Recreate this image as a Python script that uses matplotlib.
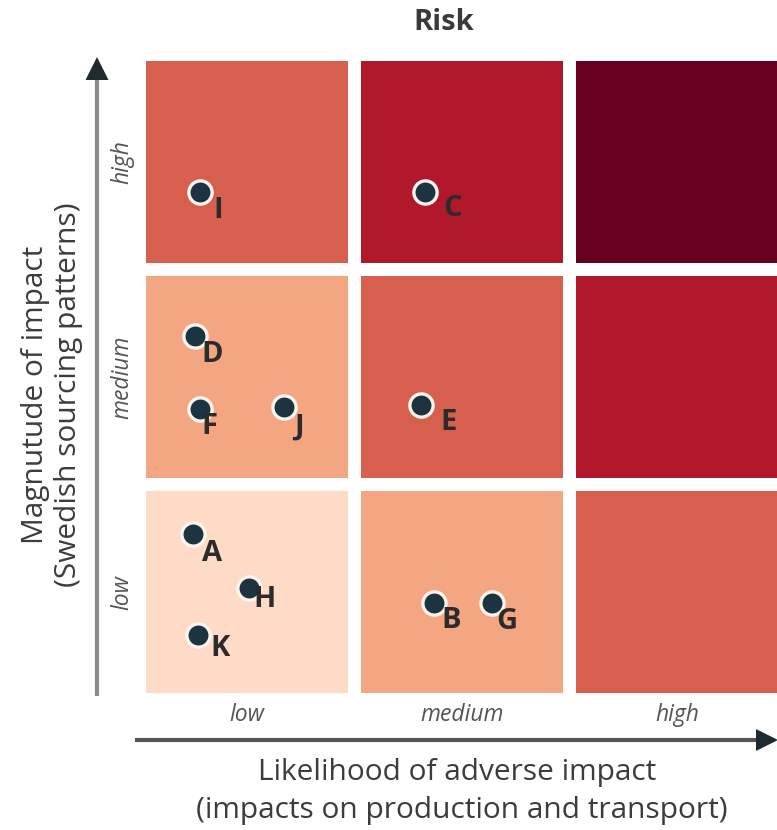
import matplotlib
matplotlib.use("Agg")
import matplotlib.pyplot as plt
from matplotlib.patches import Rectangle, Polygon

plt.rcParams["font.family"] = ["Open Sans", "DejaVu Sans"]

# ------------------ DATA ------------------

levels = ["low", "medium", "high"]

# risk level of each cell = likelihood index + magnitude index (0..4)
risk_colors = ["#fddbc7", "#f4a582", "#d6604d", "#b2182b", "#67001f"]

names = ["I", "C", "D", "F", "J", "E", "A", "H", "K", "B", "G"]
likelihood = [0.28, 1.33, 0.26, 0.28, 0.67, 1.31, 0.25, 0.51, 0.27, 1.37, 1.64]
magnitude = [2.36, 2.36, 1.69, 1.35, 1.36, 1.37, 0.77, 0.52, 0.30, 0.45, 0.45]

# label offsets in pixels (dx right, dy down)
label_dx = [18, 27, 17, 10, 15, 27, 19, 15, 23, 17, 15]
label_dy = [18, 16, 18, 17, 20, 18, 20, 12, 13, 18, 19]

# ------------------ LAYOUT ------------------

W, H = 777, 830
PITCH = 215.0          # pixels per grid unit
X0, Y0 = 139.5, 699.5  # pixel position of grid origin
GAP = 0.03


def gx(px):
    return (px - X0) / PITCH


def gy(py):
    return (Y0 - py) / PITCH


fig = plt.figure(figsize=(W / 100, H / 100), dpi=100)
ax = fig.add_axes([0, 0, 1, 1])
ax.set_xlim(gx(0), gx(W))
ax.set_ylim(gy(H), gy(0))
ax.axis("off")

# ------------------ RISK GRID ------------------

for i in range(3):
    for j in range(3):
        ax.add_patch(Rectangle((i + GAP, j + GAP), 1 - 2 * GAP, 1 - 2 * GAP,
                               facecolor=risk_colors[i + j], edgecolor="none",
                               zorder=1))

# ------------------ POINTS ------------------

ax.scatter(likelihood, magnitude, s=280, color="#1c3440",
           edgecolor="#fdf3ee", linewidth=2.4, zorder=3)

for n, x, y, dx, dy in zip(names, likelihood, magnitude, label_dx, label_dy):
    ax.annotate(n, (x, y), xytext=(dx * 0.72, -dy * 0.72),
                textcoords="offset points", ha="center", va="center",
                fontsize=21, fontweight="bold", color="#2b2b2b", zorder=4)

# ------------------ AXES ARROWS ------------------

line_col = "#8a8a8a"
head_col = "#1f2a30"

# vertical (magnitude)
ax.plot([gx(97), gx(97)], [gy(696), gy(78)], color=line_col, lw=3,
        solid_capstyle="butt", zorder=2)
ax.add_patch(Polygon([(gx(85.5), gy(80)), (gx(108.5), gy(80)), (gx(97), gy(57))],
                     closed=True, facecolor=head_col, edgecolor="none", zorder=2))

# horizontal (likelihood)
ax.plot([gx(135), gx(758)], [gy(740), gy(740)], color="#555555", lw=3,
        solid_capstyle="butt", zorder=2)
ax.add_patch(Polygon([(gx(756), gy(729)), (gx(756), gy(751)), (gx(778), gy(740))],
                     closed=True, facecolor=head_col, edgecolor="none", zorder=2))

# ------------------ LABELS ------------------

for k, lab in enumerate(levels):
    ax.text(k + 0.5, gy(715), lab, ha="center", va="center", fontsize=16.5,
            style="italic", color="#555555")
    ax.text(gx(122), k + 0.5, lab, ha="center", va="center", fontsize=16.5,
            style="italic", color="#555555", rotation=90)

ax.text(gx(444), gy(22), "Risk", ha="center", va="center", fontsize=21,
        fontweight="bold", color="#3a3a3a")

ax.text(gx(52), gy(395), "Magnutude of impact\n(Swedish sourcing patterns)",
        ha="center", va="center", rotation=90, fontsize=21.5, color="#3c3c3c",
        linespacing=1.2)

ax.text(gx(457), gy(772), "Likelihood of adverse impact", ha="center",
        va="center", fontsize=21.5, color="#3c3c3c")
ax.text(gx(462), gy(810), "(impacts on production and transport)", ha="center",
        va="center", fontsize=21.5, color="#3c3c3c")

fig.savefig("out.png", dpi=100)
